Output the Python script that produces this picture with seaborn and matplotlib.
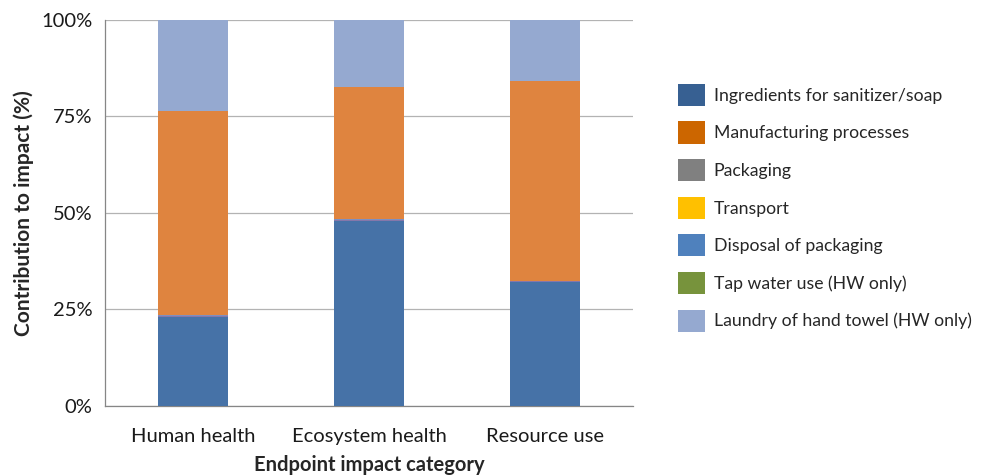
import matplotlib
matplotlib.use("Agg")
import matplotlib.pyplot as plt
from matplotlib.patches import Patch
from matplotlib.ticker import FixedLocator, PercentFormatter
import numpy as np
import pandas as pd
import seaborn as sns

categories = ["Human health", "Ecosystem health", "Resource use"]
series_names = [
    "Ingredients for sanitizer/soap",
    "Manufacturing processes",
    "Packaging",
    "Transport",
    "Disposal of packaging",
    "Tap water use (HW only)",
    "Laundry of hand towel (HW only)",
]
ingredients = [23.0, 48.0, 32.1]
manufacturing = [52.8, 34.2, 51.8]
packaging = [0.4, 0.3, 0.2]
transport = [0.0, 0.0, 0.0]
disposal = [0.1, 0.1, 0.1]
tap_water = [0.1, 0.0, 0.0]
laundry = [23.6, 17.4, 15.8]

legend_colors = ["#376092", "#CC6600", "#808080", "#FFC000",
                 "#4F81BD", "#77933C", "#95A9D0"]
bar_colors = {
    "Ingredients for sanitizer/soap": "#4672A7",
    "Packaging": "#8577AA",
    "Transport": "#FFC000",
    "Disposal of packaging": "#7E8FC0",
    "Tap water use (HW only)": "#77933C",
    "Manufacturing processes": "#DF843F",
    "Laundry of hand towel (HW only)": "#95A9D0",
}

values = {
    "Ingredients for sanitizer/soap": ingredients,
    "Manufacturing processes": manufacturing,
    "Packaging": packaging,
    "Transport": transport,
    "Disposal of packaging": disposal,
    "Tap water use (HW only)": tap_water,
    "Laundry of hand towel (HW only)": laundry,
}
# stacking order from the bottom up
stack_order = [
    "Ingredients for sanitizer/soap",
    "Packaging",
    "Transport",
    "Disposal of packaging",
    "Tap water use (HW only)",
    "Manufacturing processes",
    "Laundry of hand towel (HW only)",
]

df = pd.DataFrame({"category": categories})
running = np.zeros(len(categories))
for name in stack_order:
    running = running + np.array(values[name])
    df[name] = running

sns.set_style("white")
plt.rcParams["font.family"] = ["Lato", "DejaVu Sans"]

fig = plt.figure(figsize=(9.84, 4.75), dpi=100)
ax = fig.add_axes([0.1067, 0.1453, 0.5366, 0.8126])

# draw cumulative totals from the top segment down so each overlays the next
for name in reversed(stack_order):
    sns.barplot(data=df, x="category", y=name, color=bar_colors[name],
                width=0.4, saturation=1, ax=ax, zorder=3,
                edgecolor="none", linewidth=0)

ax.set_ylim(0, 100)
ax.set_xlim(-0.5, 2.5)
ax.set_yticks([0, 25, 50, 75, 100])
ax.yaxis.set_major_formatter(PercentFormatter(decimals=0))
ax.yaxis.grid(True, color="#B3B3B3", linewidth=0.9, zorder=0)
ax.set_axisbelow(True)

ax.xaxis.set_minor_locator(FixedLocator([-0.5, 0.5, 1.5, 2.5]))
ax.tick_params(axis="x", which="major", length=0, pad=16, labelsize=14.5, colors="#1a1a1a")
ax.tick_params(axis="x", which="minor", length=6, width=0.9, color="#868686", direction="out")
ax.tick_params(axis="y", which="major", length=5, width=0.9, color="#868686",
               direction="out", labelsize=14.5, pad=4)
ax.tick_params(axis="y", colors="#868686", labelcolor="#1a1a1a")

for side in ["top", "right"]:
    ax.spines[side].set_visible(False)
for side in ["left", "bottom"]:
    ax.spines[side].set_color("#868686")
    ax.spines[side].set_linewidth(0.9)

ax.set_xlabel("Endpoint impact category", fontsize=14.5, fontweight="bold", labelpad=7)
ax.set_ylabel("Contribution to impact (%)", fontsize=15, fontweight="bold", labelpad=5)

handles = [Patch(facecolor=c, edgecolor="none") for c in legend_colors]
fig.legend(handles, series_names, loc="upper left", bbox_to_anchor=(0.680, 0.842),
           frameon=False, fontsize=12.7, handlelength=1.55, handleheight=1.55,
           handletextpad=0.47, labelspacing=0.88, borderpad=0)

fig.savefig("out.png", dpi=100)
